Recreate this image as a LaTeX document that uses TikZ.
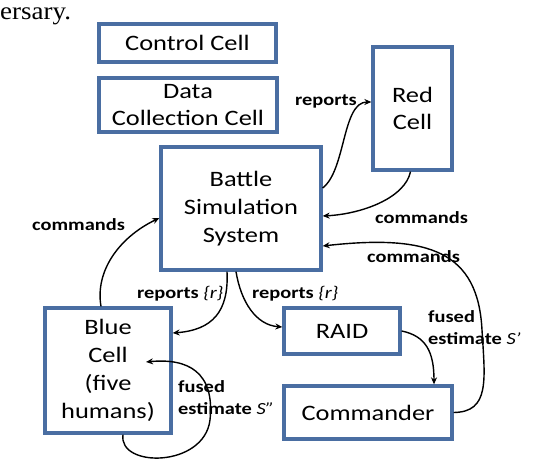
\documentclass[tikz,border=0pt]{standalone}
\usepackage{fontspec}
\setmainfont{Carlito}[FakeStretch=1.2]
\newfontfamily\capfont{Liberation Serif}[FakeStretch=1.08]
\usetikzlibrary{arrows.meta}
\definecolor{cellblue}{RGB}{74,110,162}
\tikzset{
  cell/.style={draw=cellblue, line width=3.3pt, inner sep=0pt, align=center,
    font=\fontsize{22}{27.8}\selectfont},
  lbl/.style={inner sep=0pt, anchor=west, align=left,
    font=\fontsize{17}{22}\selectfont\bfseries},
  flow/.style={->, line width=1.4pt}
}
\begin{document}
\begin{tikzpicture}[x=1pt, y=-1pt, >={Stealth[length=7pt,width=6pt]}]
  \useasboundingbox (0,0) rectangle (548,462);
  % caption remnant
  \node[inner sep=0pt, anchor=base west, font=\capfont\fontsize{25}{30}\selectfont] (cap) at (0,20) {ersary.};
  % cells
  \node[cell, minimum width=177pt, minimum height=38pt] (ctrl) at (187.5,43) {Control Cell};
  \node[cell, minimum width=178pt, minimum height=54pt] (data) at (188,105) {Data\\Collection Cell};
  \node[cell, minimum width=79pt, minimum height=123pt] (red) at (412.5,108.5) {Red\\Cell};
  \node[cell, minimum width=160pt, minimum height=123pt] (battle) at (241,208.5) {Battle\\Simulation\\System};
  \node[cell, minimum width=126pt, minimum height=125pt] (blue) at (108,370.5) {Blue\\Cell\\(five\\humans)};
  \node[cell, minimum width=116pt, minimum height=46pt] (raid) at (342,331) {RAID};
  \node[cell, minimum width=168pt, minimum height=53pt] (cmdr) at (368,412.5) {Commander};
  \coordinate (bluein) at (146,362);
  % connectors
  \draw[flow] ([yshift=20.5pt]battle.east) .. controls (346,170) and (342,102) .. ([yshift=6.5pt]red.west);
  \draw[flow] ([xshift=-2pt]red.south) .. controls (405,198) and (362,214) .. ([yshift=-7.5pt]battle.east);
  \draw[flow] (cmdr.east) .. controls (490,412) and (485,380) .. (482,330)
    .. controls (478,252) and (430,234) .. ([yshift=-37.5pt]battle.east);
  \draw[flow] ([xshift=-7pt]blue.north) .. controls (95,272) and (118,238) .. ([yshift=-9.5pt]battle.west);
  \draw[flow] ([xshift=-14pt]battle.south) .. controls (229,312) and (212,330) .. ([yshift=37.5pt]blue.east);
  \draw[flow] ([xshift=-5pt]battle.south) .. controls (241,302) and (256,325) .. ([yshift=4pt]raid.west);
  \draw[flow] (raid.east) .. controls (426,336) and (434,352) .. ([xshift=66pt]cmdr.north);
  \draw[flow] ([xshift=15pt]blue.south) .. controls (118,468) and (204,468) .. (210,420)
    .. controls (215,372) and (188,358) .. (bluein);
  % labels
  \node[lbl] (l1) at (295,101) {reports};
  \node[lbl] (l2) at (375,218) {commands};
  \node[lbl] (l3) at (367,257) {commands};
  \node[lbl] (l4) at (32,225) {commands};
  \node[lbl] (l5) at (137,294) {reports \textnormal{\itshape\{r\}}};
  \node[lbl] (l6) at (252,294) {reports \textnormal{\itshape\{r\}}};
  \node[lbl] (l7) at (428,328) {fused\\estimate \textnormal{\itshape S’}};
  \node[lbl] (l8) at (178,397.5) {fused\\estimate \textnormal{\itshape S”}};
\end{tikzpicture}
\end{document}
